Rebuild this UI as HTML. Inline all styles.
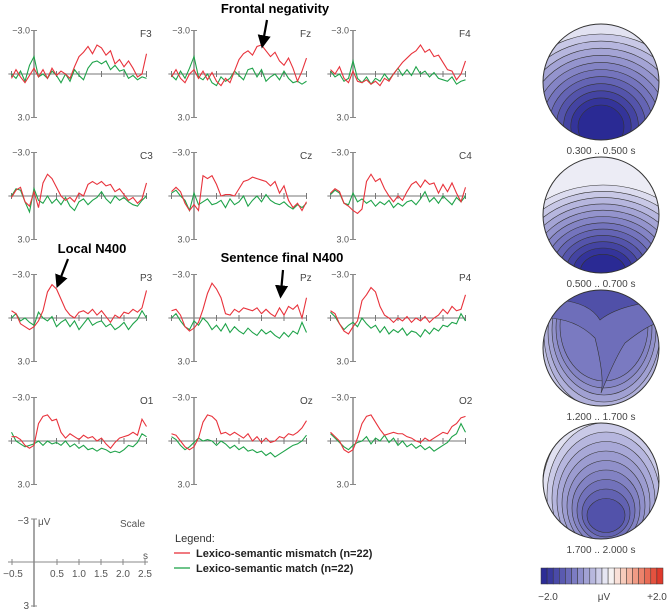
<!DOCTYPE html>
<html><head><meta charset="utf-8"><style>
html,body{margin:0;padding:0;background:#fff;}
svg{display:block;font-family:"Liberation Sans",sans-serif;}
</style></head><body>
<svg id="fig" width="669" height="612" viewBox="0 0 669 612" xmlns="http://www.w3.org/2000/svg">
<defs>
<marker id="ah" markerWidth="6" markerHeight="6" refX="3" refY="3" orient="auto"><path d="M0,0 L6,3 L0,6 Z" fill="#000"/></marker>
</defs>
<g id="panels"></g>
<g id="topos"></g>
<g font-weight="bold" font-size="13" fill="#000">
<text x="275" y="13" text-anchor="middle">Frontal negativity</text>
<line x1="267" y1="20" x2="263" y2="42" stroke="#000" stroke-width="2.2" marker-end="url(#ah)"/>
<text x="92" y="253" text-anchor="middle">Local N400</text>
<line x1="68" y1="259" x2="59" y2="282" stroke="#000" stroke-width="2.2" marker-end="url(#ah)"/>
<text x="282" y="262" text-anchor="middle">Sentence final N400</text>
<line x1="283" y1="270" x2="281" y2="292" stroke="#000" stroke-width="2.2" marker-end="url(#ah)"/>
</g>
<g fill="#555" font-size="10" stroke-width="1">
<line x1="34" y1="519" x2="34" y2="607" stroke="#888" stroke-width="1.5"/>
<line x1="31" y1="519" x2="37" y2="519" stroke="#888"/>
<line x1="31" y1="606" x2="37" y2="606" stroke="#888"/>
<line x1="8" y1="562" x2="148" y2="562" stroke="#888"/>
<line x1="12" y1="559" x2="12" y2="565" stroke="#888"/><line x1="57" y1="559" x2="57" y2="565" stroke="#888"/><line x1="79" y1="559" x2="79" y2="565" stroke="#888"/><line x1="101" y1="559" x2="101" y2="565" stroke="#888"/><line x1="123" y1="559" x2="123" y2="565" stroke="#888"/><line x1="145" y1="559" x2="145" y2="565" stroke="#888"/>
<text x="29" y="524" text-anchor="end">−3</text><text x="38" y="525">μV</text>
<text x="29" y="609" text-anchor="end">3</text>
<text x="145" y="527" text-anchor="end">Scale</text>
<text x="143" y="559">s</text>
<text x="13" y="577" text-anchor="middle">−0.5</text><text x="57" y="577" text-anchor="middle">0.5</text><text x="79" y="577" text-anchor="middle">1.0</text><text x="101" y="577" text-anchor="middle">1.5</text><text x="123" y="577" text-anchor="middle">2.0</text><text x="145" y="577" text-anchor="middle">2.5</text>
</g>
<g>
<text x="175" y="542" font-size="11" fill="#333">Legend:</text>
<line x1="174" y1="553" x2="190" y2="553" stroke="#e8333c" stroke-width="1.3"/>
<text x="196" y="557" font-size="11" font-weight="bold" fill="#222">Lexico-semantic mismatch (n=22)</text>
<line x1="174" y1="568" x2="190" y2="568" stroke="#1fa34a" stroke-width="1.3"/>
<text x="196" y="572" font-size="11" font-weight="bold" fill="#222">Lexico-semantic match  (n=22)</text>
</g>
<g id="cbar"></g>
</svg>
<script>
const channels = ["F3","Fz","F4","C3","Cz","C4","P3","Pz","P4","O1","Oz","O2"];
const times = [-0.5,-0.4,-0.3,-0.2,-0.1,0,0.1,0.2,0.3,0.4,0.5,0.6,0.7,0.8,0.9,1.0,1.1,1.2,1.3,1.4,1.5,1.6,1.7,1.8,1.9,2.0,2.1,2.2,2.3,2.4,2.5];
const mismatchF3 = [0.3,-0.3,0.2,0.6,0.1,-0.4,0.2,-0.3,0.3,-0.4,0.1,-0.2,0,0.3,-0.5,-1.2,-1.5,-1.9,-1.4,-2.0,-1.8,-1.3,-1.6,-0.7,-1.0,-0.5,-0.9,-0.4,0.2,0,-1.4];
const matchF3 = [0,0.3,-0.2,0.5,-0.6,-1.2,0.2,0,0.3,-0.2,0.1,0.6,0,0.5,-0.3,0.1,0.4,-0.4,-0.8,-0.9,-0.7,-0.9,-0.3,-0.6,-0.2,-0.3,0.3,0.1,0.4,0.2,0.3];
const mismatchFz = [0.2,-0.3,0.3,0.6,0,-0.3,0.3,-0.2,0.4,-0.1,0.5,0.8,0.3,0.6,-0.2,-1.0,-1.4,-1.6,-1.3,-1.9,-2.0,-1.6,-1.2,-1.5,-0.9,-0.6,-1.1,-0.4,0.5,-0.2,-1.1];
const matchFz = [0.1,0.4,-0.2,0.3,-0.4,-1.2,0.2,0.4,0,0.6,0.8,0.2,0.5,0.3,-0.2,0.1,0.4,-0.3,-0.4,0.2,-0.3,0.5,0.2,0,0.4,-0.2,0.3,0.6,0.5,0.7,0.5];
const mismatchF4 = [-0.3,0,-0.5,0.3,0.6,-0.2,0.5,0.6,0.4,0.7,0.5,0.8,0.3,0.5,0,-0.4,-0.8,-1.1,-1.4,-1.6,-2.0,-1.5,-1.7,-1.2,-1.3,-0.8,-0.3,-0.2,0.4,0,-0.9];
const matchF4 = [-0.2,0.2,0,0.5,0.3,-0.9,0.3,0.6,0.2,0.7,0.3,0.5,0,0.4,0,-0.4,0.1,-0.3,0.1,-0.5,0,-0.2,0.2,-0.1,0.3,0.4,0.5,0.2,0.7,0.5,0.4];
const mismatchC3 = [0.1,-0.4,-0.6,0.4,0.7,-0.3,0.8,-0.9,-1.5,-1.2,-0.6,0,0.3,0.1,0.4,-0.2,0,-0.8,-1.0,-0.8,-1.0,-0.7,-0.8,-0.3,-0.5,-0.1,0.3,0.1,0.5,0.2,-0.9];
const matchC3 = [0,-0.5,-0.4,0.4,1.1,-0.5,0.3,0.5,0,0.5,0.2,0.6,0.1,0.7,1.0,0.4,0.2,0.6,0.3,0.1,-0.3,0.2,0.5,0,0.3,0.1,0.4,0.6,0.7,0.3,0];
const mismatchCz = [-0.3,-0.6,-0.3,0.5,1.0,0.6,1.0,-1.4,-1.2,-1.4,-0.8,0,-0.1,-0.1,0,-0.5,-1.0,-1.1,-1.3,-1.2,-1.1,-1.0,-0.7,-1.0,-0.2,-0.7,0.3,0.8,0.5,1.0,0.4];
const matchCz = [-0.2,-0.4,0,0.3,1.0,-0.2,0.6,0.4,0.2,0.6,0.5,0.3,0.8,0.2,0.6,0.4,0,0.7,0.3,0,0.4,-0.1,0.3,0.5,0.6,0.4,0.7,0.9,0.6,0.8,0.5];
const mismatchC4 = [-0.2,-0.5,-0.3,0.5,0.7,1.0,1.2,0.9,-1.0,-1.5,-1.0,-1.2,-0.5,0,0.4,0,0.3,-0.3,-0.8,-1.0,-0.6,-1.1,-0.8,-0.9,-0.2,-0.8,-0.3,-0.9,-0.2,0.4,-0.6];
const matchC4 = [-0.1,-0.4,-0.2,0.5,0.6,-0.2,0.4,0.2,0.5,0.3,0.7,0.4,0.6,0.3,0.8,0.5,0.7,0.4,0.3,0.6,0.2,-0.3,0.4,0.1,0.5,0,0.3,0.6,0.1,0.4,0];
const mismatchP3 = [-0.5,-0.3,0.4,0.6,0.8,0.6,0.2,-0.5,-1.8,-2.3,-2.0,-1.3,-0.6,-0.2,0,-0.4,-0.5,-0.3,-0.6,-0.2,-0.5,-0.1,0.3,-0.2,0,-0.4,-0.3,-0.6,-0.4,-0.7,-1.9];
const matchP3 = [0,-0.3,0.2,0,0.3,0.5,-0.4,0,0.2,-0.1,0.6,0.3,0.1,0.6,0.2,0.8,0.4,0,0.5,0.3,0.2,0.6,0.4,0.8,0.6,0.3,0.8,0.4,0.1,-0.5,0];
const mismatchPz = [-0.5,-0.6,-0.2,0.6,0.9,0.7,0.3,-0.6,-1.7,-2.4,-2.0,-1.4,-0.3,-0.2,-0.6,-0.4,-0.7,-0.6,-0.5,-0.7,-0.3,-0.6,-0.3,-0.1,-0.7,-0.2,-0.8,-0.6,-0.9,0,-1.4];
const matchPz = [0,-0.3,0.2,0.6,0.8,0.2,0.5,0,0.3,0.8,0.5,0.9,0.4,1.0,0.6,0.9,1.1,0.7,1.0,1.2,0.8,1.1,0.9,1.2,1.4,1.0,1.3,0.9,1.1,0.3,1.0];
const mismatchP4 = [-0.5,-0.3,0.4,0.9,1.1,0.6,0.2,-1.2,-1.6,-2.1,-1.8,-0.8,-0.2,0,0.3,0,0.2,-0.1,0.3,0,0.2,-0.1,0.3,0,-0.2,-0.6,-0.3,-0.8,-0.5,-0.6,-1.6];
const matchP4 = [-0.4,-0.1,0.4,0.8,0.5,0.3,0.6,0,0.4,0.7,0.5,1.0,0.6,1.1,0.8,1.0,0.7,1.2,0.9,1.0,1.3,0.8,1.1,0.7,0.9,0.5,0.6,0.3,0.4,-0.3,0.2];
const mismatchO1 = [-0.3,-0.3,-0.1,0.3,0.5,0.3,-1.2,-1.7,-1.8,-1.4,-1.5,-0.6,-0.2,-0.5,-0.3,-0.1,-0.4,-0.2,-0.3,0,-0.2,0.2,0.5,0.1,-0.2,-0.3,-0.4,-0.6,-0.4,-1.5,-1.0];
const matchO1 = [-0.6,0,0.2,0.4,0.3,0.2,0,0.3,0,0.2,0.1,0.3,0,0.4,0.2,0.5,0.3,0.6,0.5,0.7,0.5,0.6,0.8,0.7,0.8,0.6,0.3,0.4,0.1,-0.5,-0.3];
const mismatchOz = [-0.5,-0.4,0,0.4,0.6,0.4,-0.2,-1.3,-1.8,-1.7,-1.4,-0.5,-0.6,-0.4,-0.6,-0.4,-0.2,-0.5,0,-0.3,0.1,-0.2,0.1,0,-0.3,-0.2,-0.5,-0.4,-0.6,-0.9,-1.4];
const matchOz = [-0.3,-0.1,0.3,0.6,0.4,0.1,-0.2,0,-0.1,0,0.3,0,0.2,0.5,0.3,0.6,0.4,0.7,0.6,0.8,0.7,1.0,0.8,1.1,0.9,0.7,0.5,0.3,0.2,0,-0.4];
const mismatchO2 = [-0.6,-0.3,0,0.6,0.8,0.6,-0.2,-1.2,-1.7,-1.8,-1.3,-0.8,-0.4,-0.5,-0.6,-0.5,-0.5,-0.3,-0.2,0,0.1,-0.2,0,-0.2,-0.4,-0.6,-0.5,-1.0,-1.2,-1.6,-1.7];
const matchO2 = [-0.5,-0.2,0.1,0.4,0.6,0.3,0.1,0,-0.3,0.2,-0.2,0,-0.4,0.1,-0.2,0.3,0,0.4,0.2,0.5,0.3,0.6,0.4,0.7,0.5,0.3,0.1,-0.3,-0.5,-1.2,-0.6];
const mismatch = [mismatchF3,mismatchFz,mismatchF4,mismatchC3,mismatchCz,mismatchC4,mismatchP3,mismatchPz,mismatchP4,mismatchO1,mismatchOz,mismatchO2];
const match = [matchF3,matchFz,matchF4,matchC3,matchCz,matchC4,matchP3,matchPz,matchP4,matchO1,matchOz,matchO2];
const topoLabels = ["0.300 .. 0.500 s","0.500 .. 0.700 s","1.200 .. 1.700 s","1.700 .. 2.000 s"];
const cbarTicks = ["−2.0","μV","+2.0"];

const NS="http://www.w3.org/2000/svg";
function mk(tag,attrs,parent){const e=document.createElementNS(NS,tag);for(const k in attrs)e.setAttribute(k,attrs[k]);parent.appendChild(e);return e;}
const colX=[34,194,353], rowY=[74,196,318,441];
const PXS=45, PXV=14.5;
const panels=document.getElementById('panels');
channels.forEach((ch,i)=>{
  const ax=colX[i%3], by=rowY[Math.floor(i/3)];
  const xs=t=>ax+t*PXS, ys=v=>by+v*PXV;
  const g=mk('g',{},panels);
  
  
  mk('line',{x1:xs(-0.57),y1:by,x2:xs(2.5),y2:by,stroke:'#777','stroke-width':1},g);
  for(let t=-0.5;t<=2.51;t+=0.5){if(Math.abs(t)<0.01)continue;mk('line',{x1:xs(t),y1:by-3,x2:xs(t),y2:by+3,stroke:'#777','stroke-width':1},g);}
  mk('line',{x1:ax,y1:ys(-3),x2:ax,y2:ys(3),stroke:'#888','stroke-width':1.5},g);
  mk('line',{x1:ax-3,y1:ys(-3),x2:ax+3,y2:ys(-3),stroke:'#888'},g);
  mk('line',{x1:ax-3,y1:ys(3),x2:ax+3,y2:ys(3),stroke:'#888'},g);
  const t1=mk('text',{x:ax-4,y:ys(-3)+3,'text-anchor':'end','font-size':9,fill:'#555'},g);t1.textContent='−3.0';
  const t2=mk('text',{x:ax-4,y:ys(3)+3,'text-anchor':'end','font-size':9,fill:'#555'},g);t2.textContent='3.0';
  const lb=mk('text',{x:ax+106,y:by-37,'text-anchor':'start','font-size':10,fill:'#444'},g);lb.textContent=ch;
  
  
  const pg=mk('polyline',{points:times.map((t,k)=>xs(t)+','+ys(match[i][k])).join(' '),fill:'none',stroke:'#1fa34a','stroke-width':1.1},g);
  
  
  const pr=mk('polyline',{points:times.map((t,k)=>xs(t)+','+ys(mismatch[i][k])).join(' '),fill:'none',stroke:'#e8333c','stroke-width':1.1},g);
  
  
});

// topomaps
const topos=document.getElementById('topos');
const centers=[82,215,348,481];
const ramp=['#dcdcef','#c8c8e6','#b6b6de','#a4a4d5','#9494cd','#8484c5','#7474bd','#6464b4','#5454ab','#4444a2','#34349a','#2a2a94'];
centers.forEach((cy,i)=>{
  const g=mk('g',{},topos);
  
  
  const cp=mk('clipPath',{id:'cp'+i},g);
  mk('circle',{cx:601,cy:cy,r:58},cp);
  const inner=mk('g',{'clip-path':'url(#cp'+i+')'},g);
  const st={stroke:'#333','stroke-width':0.6};
  if(i===0){
    mk('rect',{x:540,y:cy-60,width:125,height:120,fill:'#e2e2f1'},inner);
    ramp.slice(1).forEach((c,k)=>{mk('ellipse',Object.assign({cx:601,cy:cy+40+k*0.5,rx:95-k*7.2,ry:88-k*6.6,fill:c},st),inner);});
  } else if(i===1){
    mk('rect',{x:540,y:cy-60,width:125,height:120,fill:'#ececf5'},inner);
    ramp.forEach((c,k)=>{mk('ellipse',Object.assign({cx:603,cy:cy+52+k*0.5,rx:100-k*7,ry:82-k*5.8,fill:c},st),inner);});
  } else if(i===2){
    mk('rect',{x:540,y:cy-60,width:125,height:120,fill:'#f3e4dc'},inner);
    const cols=['#e6e6f2','#d4d4eb','#c2c2e3','#b0b0da','#a0a0d2','#9090ca','#8484c5','#7a7ac1'];
    cols.forEach((c,k)=>{mk('ellipse',Object.assign({cx:604,cy:cy-8-k*2,rx:72-k*4,ry:90-k*5,fill:c},st),inner);});
    mk('path',Object.assign({d:`M545,${cy-30} Q575,${cy-30} 595,${cy-10} Q605,${cy+30} 601,${cy+45} Q615,${cy+10} 625,${cy-5} Q650,${cy-25} 660,${cy-25} L660,${cy-70} L540,${cy-70}Z`,fill:'#6e6eba'},st),inner);
    mk('path',Object.assign({d:`M560,${cy-48} Q590,${cy-45} 600,${cy-28} Q615,${cy-40} 645,${cy-45} L645,${cy-70} L555,${cy-70}Z`,fill:'#5050a8'},st),inner);
  } else {
    mk('rect',{x:540,y:cy-60,width:125,height:120,fill:'#f3e4dc'},inner);
    const cols=['#e0e0f0','#cacae7','#b6b6de','#a8a8d7','#9c9cd0','#9090ca','#8282c3','#7272bb','#6262b2','#5252aa'];
    cols.forEach((c,k)=>{mk('ellipse',Object.assign({cx:606,cy:cy+12+k*2.5,rx:64-k*5,ry:80-k*7,fill:c},st),inner);});
  }
  mk('circle',{cx:601,cy:cy,r:58,fill:'none',stroke:'#333','stroke-width':1},g);
  const tl=mk('text',{x:601,y:cy+72,'text-anchor':'middle','font-size':10,fill:'#444'},g);
  tl.textContent=topoLabels[i];
  
  
});

// colorbar
const cb=document.getElementById('cbar');
const cbCols=['#2c2c96','#3a3a9e','#4a4aa8','#5a5ab0','#6a6ab9','#7c7cc2','#8e8ecb','#a2a2d4','#b8b8de','#cecee9','#e6e6f3','#f6f2f2','#f9e0d8','#f7cbbb','#f4b39f','#f09b85','#ec836c','#e86b55','#e4523f','#df3a2c'];
cbCols.forEach((c,k)=>{const w=122/cbCols.length;mk('rect',{x:541+k*w,y:568,width:w,height:16,fill:c,stroke:'#333','stroke-width':0.5},cb);});
[548,604,657].forEach((x,k)=>{const t=mk('text',{x:x,y:600,'text-anchor':'middle','font-size':10,fill:'#444'},cb);t.textContent=cbarTicks[k];});
</script>
</body></html>
